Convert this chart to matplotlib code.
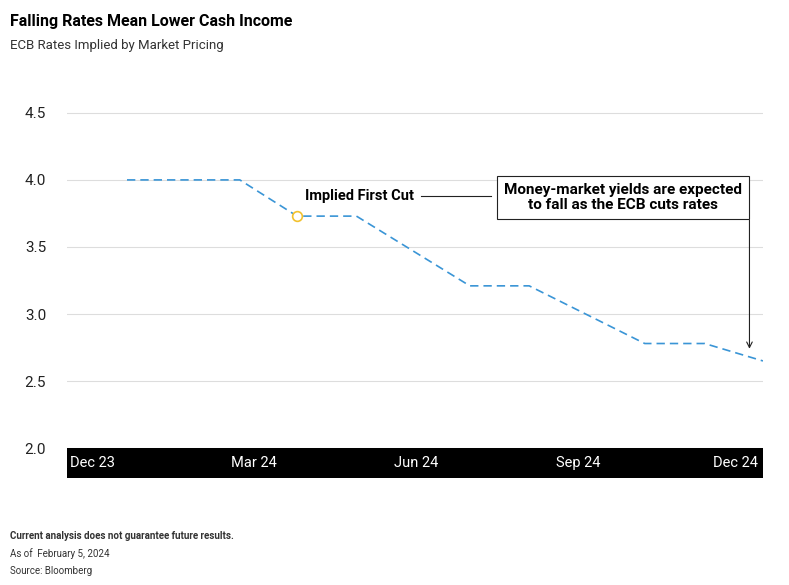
import matplotlib
matplotlib.use("Agg")
import matplotlib.pyplot as plt

# months since Dec 2023
months = [0.65, 2.74, 3.8, 4.9, 7.0, 8.1, 10.24, 11.35, 12.43]
rates = [4.0, 4.0, 3.73, 3.73, 3.21, 3.21, 2.78, 2.78, 2.65]
tick_pos = [0, 3, 6, 9, 12]
tick_labels = ["Dec 23", "Mar 24", "Jun 24", "Sep 24", "Dec 24"]
y_ticks = [2.0, 2.5, 3.0, 3.5, 4.0, 4.5]
first_cut = (3.8, 3.73)

plt.rcParams["font.family"] = ["Roboto", "DejaVu Sans"]
fig = plt.figure(figsize=(7.89, 5.85), dpi=100)
ax = fig.add_axes([0.085, 0.234, 0.882, 0.596])
xmin, xmax = -0.46, 12.43
ax.set_xlim(xmin, xmax)
ax.set_ylim(2.0, 4.6)
ax.plot(months, rates, color="#3a95d6", lw=1.2, dashes=(5, 3))
ax.plot(*first_cut, "o", ms=7, mfc="white", mec="#f2c12e", mew=1.2, zorder=5)
ax.set_yticks(y_ticks)
ax.set_yticklabels([f"{v:.1f}" for v in y_ticks], fontsize=11, color="#222222")
ax.set_xticks([])
ax.grid(axis="y", color="#dddddd", lw=0.8)
ax.tick_params(axis="y", length=0, pad=15)
for s in ax.spines.values():
    s.set_visible(False)

ax.text(3.95, 3.88, "Implied First Cut", fontsize=10.5, fontweight="bold", ha="left", va="center")
ax.plot([6.1, 7.4], [3.88, 3.88], color="#222222", lw=0.8)
ax.text(9.84, 3.87, "Money-market yields are expected\nto fall as the ECB cuts rates",
        fontsize=11, fontweight="bold", ha="center", va="center", linespacing=1.15,
        bbox=dict(boxstyle="square,pad=0.45", fc="white", ec="#222222", lw=0.8))
ax.annotate("", xy=(12.18, 2.72), xytext=(12.18, 3.72),
            arrowprops=dict(arrowstyle="->", color="#222222", lw=0.8))

band = fig.add_axes([0.085, 0.183, 0.882, 0.051])
band.set_facecolor("black")
band.set_xlim(xmin, xmax)
band.set_ylim(0, 1)
band.set_xticks([])
band.set_yticks([])
for s in band.spines.values():
    s.set_visible(False)
for i, (p, l) in enumerate(zip(tick_pos, tick_labels)):
    x, ha = p, "center"
    if i == 0:
        x, ha = xmin + 0.05, "left"
    elif i == len(tick_pos) - 1:
        x, ha = xmax - 0.1, "right"
    band.text(x, 0.5, l, color="white", fontsize=10.5, ha=ha, va="center")

fig.text(0.013, 0.955, "Falling Rates Mean Lower Cash Income", fontsize=11.5, fontweight="bold")
fig.text(0.013, 0.917, "ECB Rates Implied by Market Pricing", fontsize=9.5, color="#333333")
fig.text(0.013, 0.078, "Current analysis does not guarantee future results.", fontsize=7,
         fontweight="bold", color="#333333")
fig.text(0.013, 0.048, "As of  February 5, 2024", fontsize=7, color="#333333")
fig.text(0.013, 0.018, "Source: Bloomberg", fontsize=7, color="#333333")

fig.savefig("out.png", dpi=100)
